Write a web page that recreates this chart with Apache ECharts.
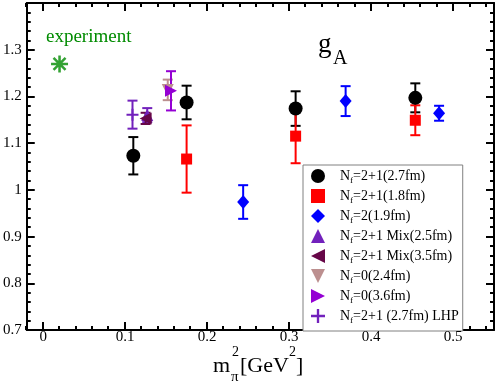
<!DOCTYPE html>
<html>
<head>
<meta charset="utf-8">
<script src="https://cdn.jsdelivr.net/npm/echarts@6/dist/echarts.min.js"></script>
<style>
html, body { margin: 0; padding: 0; background: #fff; }
#main { width: 498px; height: 387px; }
</style>
</head>
<body>
<div id="main"></div>
<script>
// values: x = m_pi^2 [GeV^2], y = g_A, err = half error bar
const xMajor = [0, 0.1, 0.2, 0.3, 0.4, 0.5];

const nf27X = [0.110, 0.175, 0.308, 0.454];
const nf27Y = [1.073, 1.187, 1.174, 1.197];
const nf27Err = [0.040, 0.036, 0.037, 0.031];

const nf18X = [0.175, 0.308, 0.454];
const nf18Y = [1.066, 1.115, 1.149];
const nf18Err = [0.072, 0.058, 0.032];

const nf2X = [0.244, 0.369, 0.483];
const nf2Y = [0.974, 1.190, 1.164];
const nf2Err = [0.036, 0.032, 0.016];

const mix25X = [0.127];
const mix25Y = [1.160];
const mix25Err = [0.015];

const mix35X = [0.125];
const mix35Y = [1.153];
const mix35Err = [0.012];

const q24X = [0.152];
const q24Y = [1.214];
const q24Err = [0.022];

const q36X = [0.156];
const q36Y = [1.212];
const q36Err = [0.042];

const lhpX = [0.109];
const lhpY = [1.161];
const lhpErr = [0.030];

const expX = [0.020];
const expY = [1.2695];

const names = [
  'Nf=2+1(2.7fm)',
  'Nf=2+1(1.8fm)',
  'Nf=2(1.9fm)',
  'Nf=2+1 Mix(2.5fm)',
  'Nf=2+1 Mix(3.5fm)',
  'Nf=0(2.4fm)',
  'Nf=0(3.6fm)',
  'Nf=2+1 (2.7fm) LHP'
];

const serif = 'Liberation Serif';

function pts(x, y, e) {
  return x.map(function (v, i) { return [v, y[i], e[i]]; });
}

function errBar(params, api) {
  const x = api.value(0), y = api.value(1), e = api.value(2);
  const hi = api.coord([x, y + e]);
  const lo = api.coord([x, y - e]);
  const w = 5;
  const style = { stroke: api.visual('color'), lineWidth: 2 };
  return {
    type: 'group',
    children: [
      { type: 'line', shape: { x1: hi[0], y1: hi[1], x2: lo[0], y2: lo[1] }, style: style },
      { type: 'line', shape: { x1: hi[0] - w, y1: hi[1], x2: hi[0] + w, y2: hi[1] }, style: style },
      { type: 'line', shape: { x1: lo[0] - w, y1: lo[1], x2: lo[0] + w, y2: lo[1] }, style: style }
    ]
  };
}

function group(name, color, x, y, e, symbol, size) {
  const data = pts(x, y, e);
  return [
    {
      type: 'custom', name: name + ' err', renderItem: errBar, data: data,
      encode: { x: 0, y: 1 }, itemStyle: { color: color }, silent: true, z: 2
    },
    {
      type: 'scatter', name: name, data: data.map(function (d) { return [d[0], d[1]]; }),
      symbol: symbol, symbolSize: size, itemStyle: { color: color, opacity: 1 }, z: 3
    }
  ];
}

const series = [].concat(
  group(names[0], '#000000', nf27X, nf27Y, nf27Err, 'circle', 14),
  group(names[1], '#ff0000', nf18X, nf18Y, nf18Err, 'rect', 11),
  group(names[2], '#0000ff', nf2X, nf2Y, nf2Err, 'diamond', [12, 14]),
  group(names[3], '#7221bc', mix25X, mix25Y, mix25Err, 'triangle', 12),
  group(names[4], '#670748', mix35X, mix35Y, mix35Err, 'path://M0,5L10,0L10,10Z', 12),
  group(names[5], '#bc8f8f', q24X, q24Y, q24Err, 'path://M0,0L10,0L5,10Z', 12),
  group(names[6], '#9400d3', q36X, q36Y, q36Err, 'path://M10,5L0,0L0,10Z', 12),
  group(names[7], '#7221bc', lhpX, lhpY, lhpErr, 'path://M5,0H7V12H5Z M0,5H12V7H0Z', 12),
  [{
    type: 'scatter', name: 'experiment',
    data: expX.map(function (v, i) { return [v, expY[i]]; }),
    symbol: 'path://M8.5,0H11.5V20H8.5Z M0,8.5H20V11.5H0Z M1.9,4L4,1.9L18.1,16L16,18.1Z M16,1.9L18.1,4L4,18.1L1.9,16Z',
    symbolSize: 17, itemStyle: { color: '#008b00' }, z: 3
  }]
);

const axisLine = { show: true, onZero: false, lineStyle: { color: '#000', width: 2 } };

const chart = echarts.init(document.getElementById('main'));
chart.setOption({
  animation: false,
  grid: [
    { left: 26, right: 4, top: 3, bottom: 57 },
    { left: 26, right: 4, top: 3, bottom: 57 }
  ],
  xAxis: [
    {
      gridIndex: 0, type: 'value', position: 'bottom', min: -0.02, max: 0.55,
      axisLine: axisLine,
      axisTick: { inside: true, length: 8, customValues: xMajor, lineStyle: { color: '#000', width: 2 } },
      axisLabel: { show: false },
      splitLine: { show: false }
    },
    {
      gridIndex: 0, type: 'value', position: 'top', min: -0.02, max: 0.55,
      axisLine: axisLine,
      axisTick: { inside: true, length: 8, customValues: xMajor, lineStyle: { color: '#000', width: 2 } },
      axisLabel: { show: false },
      splitLine: { show: false }
    },
    {
      gridIndex: 1, type: 'value', position: 'bottom', min: -0.02, max: 0.55, interval: 0.02,
      axisLine: { show: false, onZero: false },
      axisTick: { inside: true, length: 4, lineStyle: { color: '#000', width: 2 } },
      axisLabel: { show: false },
      splitLine: { show: false }
    },
    {
      gridIndex: 1, type: 'value', position: 'top', min: -0.02, max: 0.55, interval: 0.02,
      axisLine: { show: false, onZero: false },
      axisTick: { inside: true, length: 4, lineStyle: { color: '#000', width: 2 } },
      axisLabel: { show: false },
      splitLine: { show: false }
    }
  ],
  yAxis: [
    {
      gridIndex: 0, type: 'value', position: 'left', min: 0.7, max: 1.4, interval: 0.1,
      axisLine: axisLine,
      axisTick: { inside: true, length: 8, lineStyle: { color: '#000', width: 2 } },
      minorTick: { show: true, splitNumber: 5, length: 4, lineStyle: { color: '#000', width: 2 } },
      axisLabel: { margin: 5, color: '#000', fontFamily: serif, fontSize: 15, showMaxLabel: false },
      splitLine: { show: false }, minorSplitLine: { show: false }
    },
    {
      gridIndex: 0, type: 'value', position: 'right', min: 0.7, max: 1.4, interval: 0.1,
      axisLine: axisLine,
      axisTick: { inside: true, length: 8, lineStyle: { color: '#000', width: 2 } },
      minorTick: { show: true, splitNumber: 5, length: 4, lineStyle: { color: '#000', width: 2 } },
      axisLabel: { show: false },
      splitLine: { show: false }, minorSplitLine: { show: false }
    },
    {
      gridIndex: 1, type: 'value', min: 0.7, max: 1.4, show: false
    }
  ],
  legend: {
    orient: 'vertical', left: 303, top: 165,
    itemWidth: 14, itemHeight: 14, itemGap: 4,
    padding: [4, 4, 6, 8],
    borderColor: '#808080', borderWidth: 1, borderRadius: 0,
    backgroundColor: '#fff',
    selectedMode: false,
    data: names,
    formatter: function (n) { return '{p|N}{f|f}{t|' + n.slice(2) + '}'; },
    textStyle: {
      fontFamily: serif, fontSize: 14, color: '#000',
      rich: {
        p: { fontFamily: serif, fontSize: 14, lineHeight: 14, color: '#000', verticalAlign: 'top', padding: [0, 0, 0, 10] },
        f: { fontFamily: serif, fontSize: 9, lineHeight: 9, color: '#000', verticalAlign: 'top', padding: [7, 0, 0, 0] },
        t: { fontFamily: serif, fontSize: 14, lineHeight: 14, color: '#000', verticalAlign: 'top' }
      }
    }
  },
  series: series
});

// x tick labels placed through the axis scale, kept on top of everything
const tickLabels = xMajor.map(function (v) {
  return {
    type: 'text', x: chart.convertToPixel({ xAxisIndex: 0 }, v), y: 330, z: 100, zlevel: 1,
    style: { text: String(v), fill: '#000', font: '15px "Liberation Serif"', align: 'center', verticalAlign: 'top' }
  };
});

chart.setOption({
  graphic: [
    { type: 'text', left: 46, top: 28, style: { text: 'experiment', fill: '#008b00', font: '19px "Liberation Serif"' } },
    { type: 'text', left: 318, top: 31, style: { text: 'g', fill: '#000', font: '27px "Liberation Serif"' } },
    { type: 'text', left: 333, top: 49, style: { text: 'A', fill: '#000', font: '20px "Liberation Serif"' } },
    { type: 'text', left: 213, top: 355, style: { text: 'm', fill: '#000', font: '22px "Liberation Serif"' } },
    { type: 'text', left: 232, top: 345, style: { text: '2', fill: '#000', font: '14px "Liberation Serif"' } },
    { type: 'text', left: 231, top: 370, style: { text: 'π', fill: '#000', font: '15px "Liberation Serif"' } },
    { type: 'text', left: 240, top: 355, style: { text: '[GeV', fill: '#000', font: '22px "Liberation Serif"' } },
    { type: 'text', left: 289, top: 345, style: { text: '2', fill: '#000', font: '14px "Liberation Serif"' } },
    { type: 'text', left: 296, top: 355, style: { text: ']', fill: '#000', font: '22px "Liberation Serif"' } }
  ].concat(tickLabels)
});
</script>
</body>
</html>
